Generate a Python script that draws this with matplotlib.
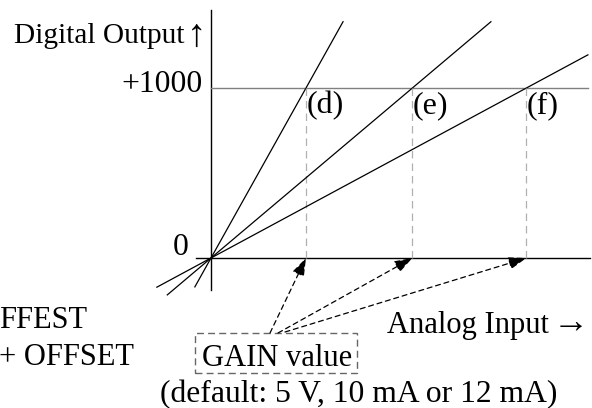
import matplotlib.pyplot as plt

# gain points (d), (e), (f) on the analog input axis, in arbitrary units
gain_labels = ["(d)", "(e)", "(f)"]
gain_values = [1.0, 2.12, 3.32]
full_scale = 1000
line_top = [1390, 1390, 1195]      # digital value where each line stops
line_bottom = [-0.17, -0.46, -0.57]  # analog value where each line stops below 0

W, H = 592, 408
X0, Y0 = 211, 258      # origin in pixels
SX, SY = 95, 170 / 1000  # pixels per unit

def px(x, y):
    # pixel position -> data position
    return (x - X0) / SX, (Y0 - y) / SY

plt.rcParams["font.family"] = ["Liberation Serif", "DejaVu Serif"]
fs = 22

fig = plt.figure(figsize=(W / 100, H / 100), dpi=100)
ax = fig.add_axes([0, 0, 1, 1])
ax.set_xlim(px(0, 0)[0], px(W, 0)[0])
ax.set_ylim(px(0, H)[1], px(0, 0)[1])
ax.axis("off")

# axes
ax.plot([px(196, 0)[0], px(590, 0)[0]], [0, 0], color="black", lw=1.0)
ax.plot([0, 0], [px(0, 290)[1], px(0, 10)[1]], color="black", lw=1.0)

# full scale line
x_end = line_top[2] / full_scale * gain_values[2]
ax.plot([0, x_end], [full_scale, full_scale], color="#808080", lw=1.0)

for g, lab, top, bot in zip(gain_values, gain_labels, line_top, line_bottom):
    ax.plot([bot, top / full_scale * g], [bot * full_scale / g, top],
            color="black", lw=0.9)
    ax.plot([g, g], [0, full_scale], color="#b0b0b0", lw=0.9, ls=(0, (6, 4)))
    ax.text(g + 0.005, full_scale - 20, lab, fontsize=23, ha="left", va="top")

# labels
x, y = px(185, 43)
ax.text(x, y, "Digital Output", fontsize=21.2, ha="right", va="baseline")
x, y = px(206, 46)
ax.text(x, y, "↑", fontsize=28, ha="right", va="baseline")
x, y = px(203, 92)
ax.text(x, y, "+1000", fontsize=22.8, ha="right", va="baseline")
x, y = px(189, 255)
ax.text(x, y, "0", fontsize=22.8, ha="right", va="baseline")
x, y = px(549, 333)
ax.text(x, y, "Analog Input", fontsize=fs, ha="right", va="baseline")
x, y = px(589, 333)
ax.text(x, y, "→", fontsize=26, ha="right", va="baseline")
x, y = px(-1, 328)
ax.text(x, y, "FFEST", fontsize=fs, ha="left", va="baseline")
x, y = px(-1, 365)
ax.text(x, y, "+ OFFSET", fontsize=fs, ha="left", va="baseline")
x, y = px(359, 402)
ax.text(x, y, "(default: 5 V, 10 mA or 12 mA)", fontsize=22.8, ha="center", va="baseline")

# GAIN value box
x1, y1 = px(195, 373)
x2, y2 = px(357, 333)
ax.add_patch(plt.Rectangle((x1, y1), x2 - x1, y2 - y1, fill=False,
                           ec="#666666", lw=1.0, ls=(0, (5, 3))))
x, y = px(277, 366)
ax.text(x, y, "GAIN value", fontsize=fs, ha="center", va="baseline")

# dashed arrows from the box to each gain point
starts = [(270, 333), (278, 333), (285, 332)]
for g, (sx, sy) in zip(gain_values, starts):
    ax.annotate("", xy=(g, 0), xytext=px(sx, sy),
                arrowprops=dict(arrowstyle="-|>,head_length=1.1,head_width=0.38",
                                color="black", lw=0.9, ls=(0, (4, 3)),
                                shrinkA=0, shrinkB=0))

fig.savefig("out.png", dpi=100)
